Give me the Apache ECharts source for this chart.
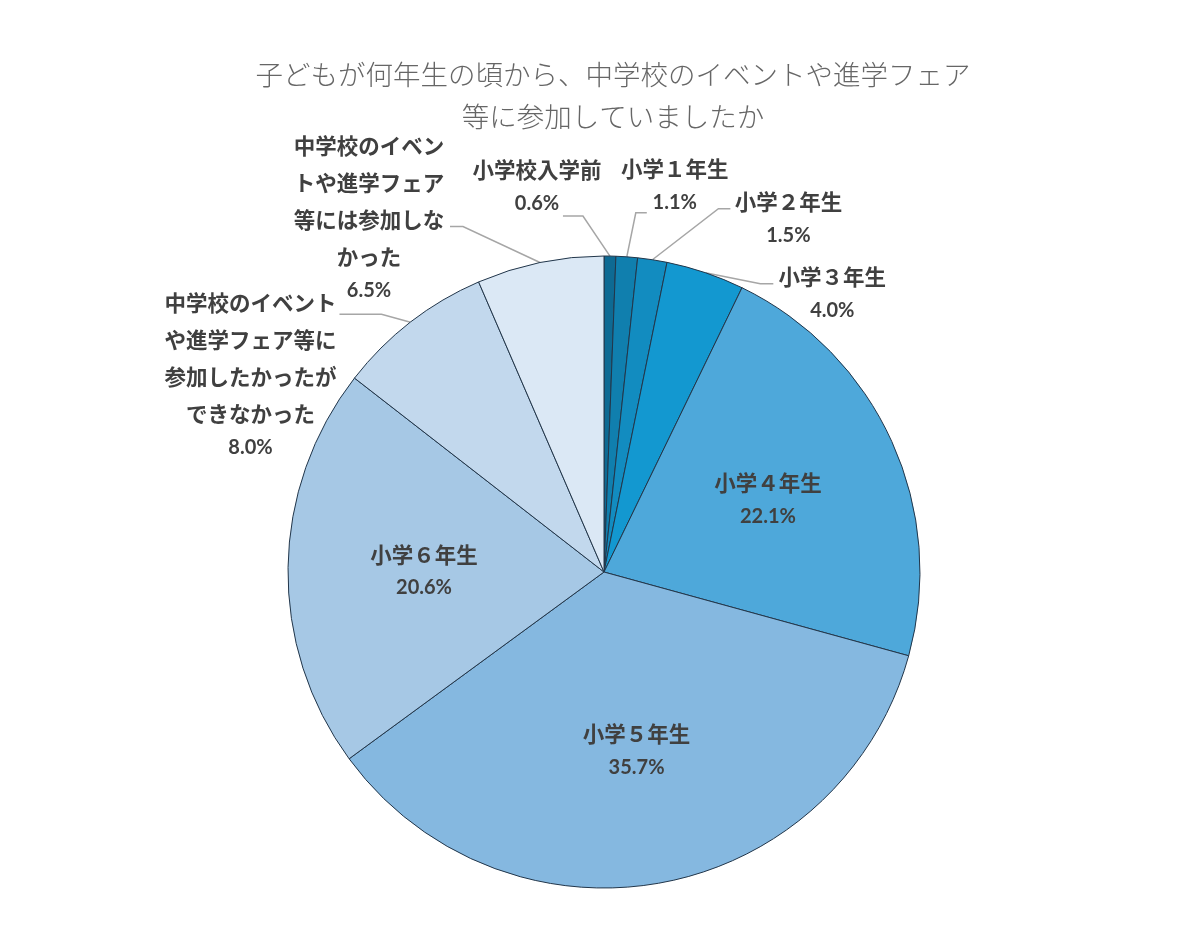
<!DOCTYPE html>
<html><head><meta charset="utf-8">
<script src="https://cdn.jsdelivr.net/npm/echarts@6/dist/echarts.min.js"></script>
<style>html,body{margin:0;padding:0;background:#fff}#c{width:1200px;height:928px}</style>
</head><body><div id="c"></div>
<script>
const titleText = '子どもが何年生の頃から、中学校のイベントや進学フェア\n等に参加していましたか';
const categories = ['小学校入学前','小学１年生','小学２年生','小学３年生','小学４年生','小学５年生','小学６年生',
  '中学校のイベントや進学フェア等に参加したかったができなかった','中学校のイベントや進学フェア等には参加しなかった'];
const values = [0.6, 1.1, 1.5, 4.0, 22.1, 35.7, 20.6, 8.0, 6.5];
const labelLines = [['小学校入学前'],['小学１年生'],['小学２年生'],['小学３年生'],['小学４年生'],['小学５年生'],['小学６年生'],
  ['中学校のイベント','や進学フェア等に','参加したかったが','できなかった'],
  ['中学校のイベン','トや進学フェア','等には参加しな','かった']];
const colors = ['#0e6a93','#107fae','#128cc0','#1398d0','#4ea8da','#85b8e0','#a6c8e5','#c2d8ed','#dbe8f5'];
const insideIdx = [4, 5, 6];
// leader lines: elbow offset from slice edge (dx,dy), horizontal run, label centre offset from line end (dx,dy)
const leaders = {0:[-27,-40,-20,-26,-31], 1:[9,-44,11,28,-29], 2:[66,-51,12,58,8], 3:[55,11,13,59,8], 7:[-29,-8,-42,-89,59], 8:[-77,-36,-13,-81,-10]};

const rich = {
  n: {fontSize: 21.5, fontWeight: 'bold', lineHeight: 37, color: '#404040', fontFamily: 'Noto Sans CJK JP'},
  v: {fontSize: 20, fontWeight: 'bold', lineHeight: 30, color: '#404040', fontFamily: 'Lato, Noto Sans CJK JP'}
};
const fmt = p => labelLines[p.dataIndex].map(s => '{n|' + s + '}').join('\n') + '\n{v|' + p.value.toFixed(1) + '%}';

const mainData = categories.map((c, i) => {
  const inside = insideIdx.includes(i);
  return {name: c, value: values[i], itemStyle: {color: colors[i]},
    label: {show: !inside}, labelLine: {show: !inside}};
});
const overlayData = categories.map((c, i) => ({name: c, value: values[i],
  label: {show: insideIdx.includes(i)}}));

const chart = echarts.init(document.getElementById('c'));
chart.setOption({
  animation: false,
  backgroundColor: '#fff',
  title: {text: titleText, left: 608, top: 49, textAlign: 'center',
    textStyle: {fontSize: 27.5, fontWeight: 300, color: '#666', lineHeight: 42, fontFamily: 'Noto Sans CJK JP'}},
  series: [{
    type: 'pie', center: [604, 572], radius: [0, 316], startAngle: 90, clockwise: true,
    avoidLabelOverlap: false, silent: true,
    itemStyle: {borderColor: '#22364a', borderWidth: 1},
    label: {position: 'outside', formatter: fmt, rich: rich},
    labelLine: {lineStyle: {color: '#a6a6a6', width: 1.5}},
    labelLayout: function (p) {
      const L = leaders[p.dataIndex];
      if (!L || !p.labelLinePoints) return {};
      const p0 = [p.labelLinePoints[0][0], p.labelLinePoints[0][1]];
      const p1 = [p0[0] + L[0], p0[1] + L[1]];
      const p2 = [p1[0] + L[2], p1[1]];
      return {x: p2[0] + L[3], y: p2[1] + L[4], align: 'center', verticalAlign: 'middle', labelLinePoints: [p0, p1, p2]};
    },
    data: mainData
  }, {
    type: 'pie', center: [604, 572], radius: [38, 316], startAngle: 90, clockwise: true,
    silent: true, avoidLabelOverlap: false, z: 5,
    itemStyle: {color: 'rgba(0,0,0,0)', borderWidth: 0},
    label: {position: 'inside', formatter: fmt, rich: rich, align: 'center'},
    labelLine: {show: false},
    data: overlayData
  }]
});
</script></body></html>
